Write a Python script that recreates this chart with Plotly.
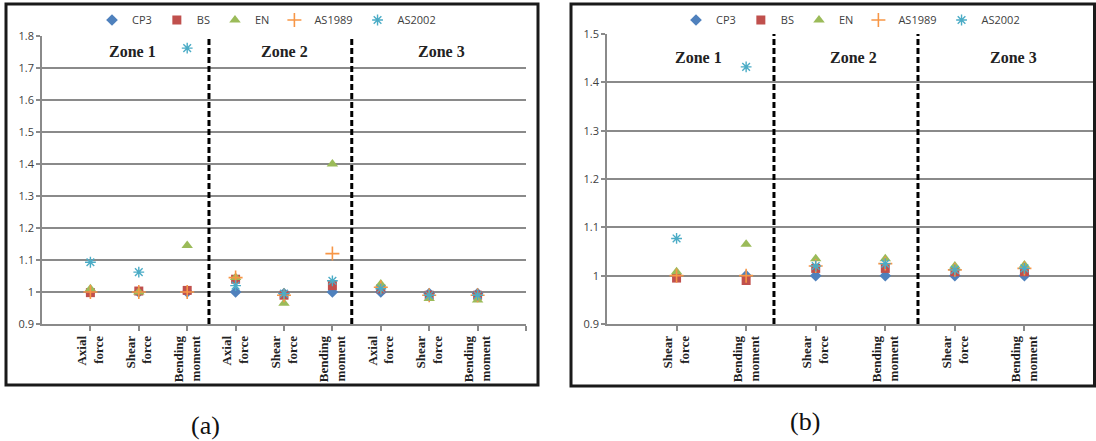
import plotly.graph_objects as go

# ---------------- data ----------------
series_names = ["CP3", "BS", "EN", "AS1989", "AS2002"]

# chart (a): 3 zones x (Axial force, Shear force, Bending moment)
a_labels = ["Axial<br>force", "Shear<br>force", "Bending<br>moment",
            "Axial<br>force", "Shear<br>force", "Bending<br>moment",
            "Axial<br>force", "Shear<br>force", "Bending<br>moment"]
a_CP3 = [1.0, 1.0, 1.0, 1.0, 0.995, 1.0, 1.0, 0.995, 0.995]
a_BS = [0.998, 1.003, 1.005, 1.04, 0.99, 1.02, 1.01, 0.99, 0.99]
a_EN = [1.01, 1.0, 1.145, 1.045, 0.965, 1.40, 1.025, 0.98, 0.975]
a_AS1989 = [1.0, 1.0, 1.0, 1.045, 0.99, 1.12, 1.015, 0.99, 0.99]
a_AS2002 = [1.093, 1.062, 1.762, 1.02, 0.995, 1.035, 1.01, 0.99, 0.99]

# chart (b): 3 zones x (Shear force, Bending moment)
b_labels = ["Shear<br>force", "Bending<br>moment",
            "Shear<br>force", "Bending<br>moment",
            "Shear<br>force", "Bending<br>moment"]
b_CP3 = [1.0, 1.0, 1.0, 1.0, 1.0, 1.0]
b_BS = [0.995, 0.99, 1.015, 1.015, 1.008, 1.008]
b_EN = [1.008, 1.065, 1.035, 1.035, 1.02, 1.022]
b_AS1989 = [1.0, 1.0, 1.02, 1.025, 1.012, 1.015]
b_AS2002 = [1.077, 1.432, 1.02, 1.025, 1.012, 1.015]

zone_names = ["Zone 1", "Zone 2", "Zone 3"]
captions = ["(a)", "(b)"]

# ---------------- styles ----------------
styles = {
    "CP3": dict(symbol="diamond", color="#4F81BD", size=9, line=dict(width=0)),
    "BS": dict(symbol="square", color="#C0504D", size=9, line=dict(width=0)),
    "EN": dict(symbol="triangle-up", color="#9BBB59", size=10, line=dict(width=0)),
    "AS1989": dict(symbol="cross-thin", color="#F79646", size=10,
                   line=dict(width=1.6, color="#F79646")),
    "AS2002": dict(symbol="asterisk", color="#4BACC6", size=9,
                   line=dict(width=1.4, color="#4BACC6")),
}

a_series = [a_CP3, a_BS, a_EN, a_AS1989, a_AS2002]
b_series = [b_CP3, b_BS, b_EN, b_AS1989, b_AS2002]

fig = go.Figure()
a_x = list(range(1, len(a_labels) + 1))
b_x = list(range(1, len(b_labels) + 1))

for name, vals in zip(series_names, a_series):
    fig.add_trace(go.Scatter(x=a_x, y=vals, mode="markers", name=name,
                             marker=styles[name], xaxis="x", yaxis="y",
                             legend="legend", cliponaxis=False))
for name, vals in zip(series_names, b_series):
    fig.add_trace(go.Scatter(x=b_x, y=vals, mode="markers", name=name,
                             marker=styles[name], xaxis="x2", yaxis="y2",
                             legend="legend2", cliponaxis=False))

W, H = 1096, 441
grid = "#8A8A8A"
tickfont_x = dict(family="Liberation Serif", size=13, color="#222222", weight="bold")
tickfont_y = dict(family="Open Sans", size=11, color="#404040")


def xaxis(domain, n, labels):
    return dict(domain=domain, range=[0, n + 1], tickvals=list(range(1, n + 2)),
                ticktext=labels + [""], tickangle=-90, tickfont=tickfont_x,
                showgrid=False, zeroline=False, showline=True, linecolor=grid,
                linewidth=1.5, ticks="outside", ticklen=5, tickcolor=grid,
                tickwidth=1.5, fixedrange=True, automargin=False)


def yaxis(domain, anchor, rng):
    return dict(domain=domain, anchor=anchor, range=rng, dtick=0.1, tick0=0.9,
                showgrid=True, gridcolor=grid, gridwidth=1.6, zeroline=False,
                showline=True, linecolor=grid, linewidth=1.5, ticks="outside",
                ticklen=4, tickcolor=grid, tickwidth=1.5, tickfont=tickfont_y,
                fixedrange=True, automargin=False)


lfont = dict(family="Open Sans", size=11, color="#404040")
fig.update_layout(
    width=W, height=H, autosize=False,
    margin=dict(l=0, r=0, t=0, b=0, pad=0, autoexpand=False),
    paper_bgcolor="white", plot_bgcolor="white",
    xaxis=xaxis([42 / W, 526 / W], len(a_labels), a_labels),
    yaxis=yaxis([117 / H, 405 / H], "x", [0.9, 1.8]),
    xaxis2=dict(xaxis([607 / W, 1094 / W], len(b_labels), b_labels), anchor="y2"),
    yaxis2=yaxis([117 / H, 407 / H], "x2", [0.9, 1.5]),
    legend=dict(orientation="h", x=92 / W, y=(H - 20) / H, xanchor="left",
                yanchor="middle", font=lfont,
                bgcolor="rgba(0,0,0,0)", itemwidth=30, tracegroupgap=0),
    legend2=dict(orientation="h", x=676 / W, y=(H - 20) / H, xanchor="left",
                 yanchor="middle", font=lfont,
                 bgcolor="rgba(0,0,0,0)", itemwidth=30, tracegroupgap=0),
    showlegend=True,
)

shapes = []
# zone dividers
for xv in [3.45, 6.4]:
    shapes.append(dict(type="line", xref="x", yref="y domain", x0=xv, x1=xv,
                       y0=0, y1=1, line=dict(color="black", width=3, dash="6px,3px")))
for xv in [2.4, 4.47]:
    shapes.append(dict(type="line", xref="x2", yref="y2 domain", x0=xv, x1=xv,
                       y0=0, y1=1, line=dict(color="black", width=3, dash="6px,3px")))
# panel borders
shapes.append(dict(type="rect", xref="paper", yref="paper", x0=6 / W, x1=538 / W,
                   y0=(H - 385) / H, y1=(H - 4) / H,
                   line=dict(color="#1a1a1a", width=3)))
shapes.append(dict(type="rect", xref="paper", yref="paper", x0=571 / W, x1=1094.5 / W,
                   y0=(H - 386) / H, y1=(H - 4) / H,
                   line=dict(color="#1a1a1a", width=3)))
fig.update_layout(shapes=shapes)

zfont = dict(family="Liberation Serif", size=16, color="#222222")
ann = []
for zx, zn in zip([1.86, 5.0, 8.26], zone_names):
    ann.append(dict(x=zx, y=1.752, xref="x", yref="y", text="<b>%s</b>" % zn,
                    showarrow=False, font=zfont))
for zx, zn in zip([1.31, 3.54, 5.85], zone_names):
    ann.append(dict(x=zx, y=1.452, xref="x2", yref="y2", text="<b>%s</b>" % zn,
                    showarrow=False, font=zfont))
cfont = dict(family="Liberation Serif", size=26, color="#111111")
for cx, cy, ct in zip([205, 805], [425, 421], captions):
    ann.append(dict(x=cx / W, y=(H - cy) / H, xref="paper", yref="paper", text=ct,
                    showarrow=False, font=cfont, xanchor="center", yanchor="middle"))
fig.update_layout(annotations=ann)

fig.write_html("out.html", config={"responsive": False, "displayModeBar": False},
               default_width="1096px", default_height="441px",
               post_script="document.body.style.margin='0';"
                           "document.body.style.overflow='hidden';")
